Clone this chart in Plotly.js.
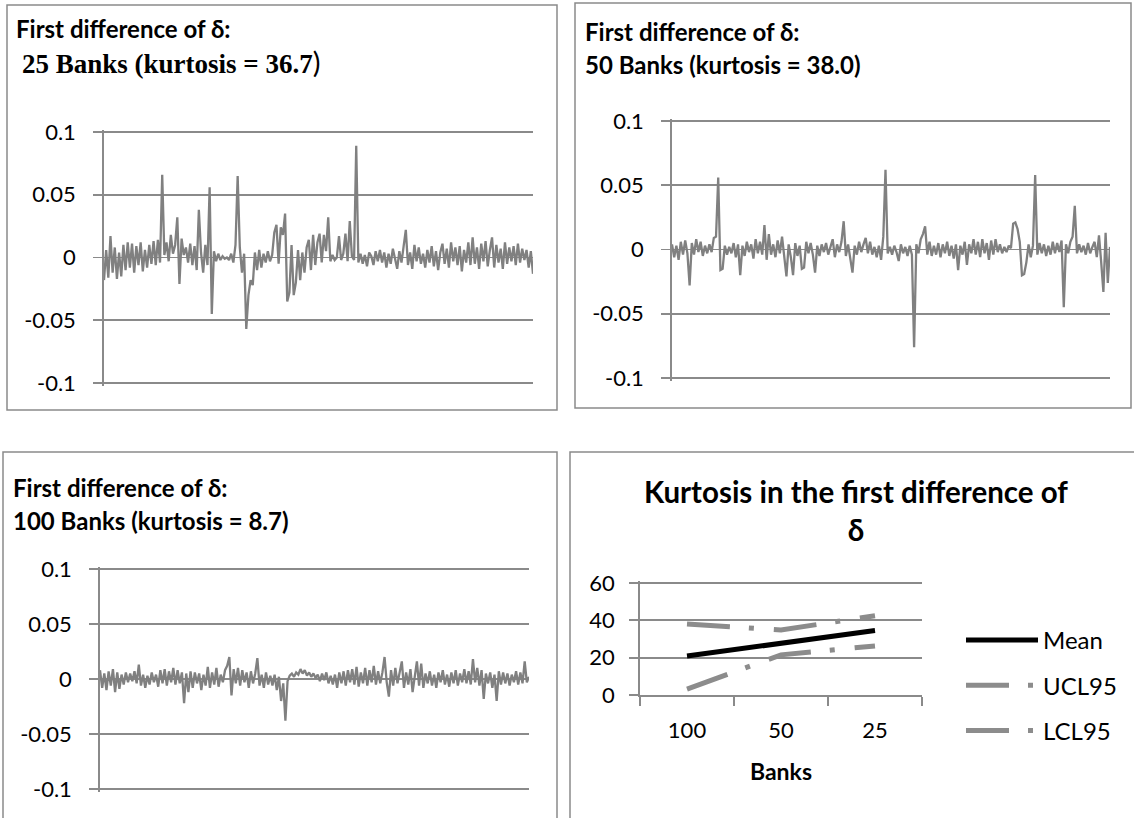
<!DOCTYPE html>
<html><head><meta charset="utf-8">
<script src="https://cdn.plot.ly/plotly-3.0.1.min.js"></script>
<style>html,body{margin:0;padding:0;background:#fff;} #chart{width:1134px;height:818px;}</style>
</head><body><div id="chart"></div>
<script>
// First difference of delta, 25 banks
const diff25 = [
-0.018,0.006,-0.016,0.017,-0.012,0.008,-0.017,0.004,-0.015,0.010,
-0.010,0.012,-0.008,0.011,-0.012,0.009,-0.006,0.012,-0.011,0.006,
-0.008,0.010,-0.005,0.013,-0.006,0.014,-0.004,0.066,0.002,0.012,
-0.003,0.018,0.003,0.010,0.032,-0.021,0.015,0.002,0.008,-0.004,
0.011,-0.006,0.009,-0.010,0.038,0.004,-0.012,0.010,-0.006,0.056,
-0.045,0.005,-0.003,0.003,-0.002,0.001,-0.001,0.000,-0.002,0.003,
-0.004,0.010,0.065,0.008,-0.012,0.003,-0.057,-0.030,-0.018,-0.022,
0.004,-0.010,0.006,-0.008,0.003,-0.004,0.005,-0.003,0.002,0.020,
0.026,-0.005,0.024,0.018,0.035,-0.035,-0.028,0.010,-0.030,-0.020,
0.006,-0.018,0.004,-0.012,0.008,0.014,-0.010,0.018,-0.006,0.012,
0.019,-0.004,0.018,0.005,0.032,-0.003,0.002,-0.002,0.000,0.017,
-0.002,0.003,0.019,-0.003,0.029,0.001,-0.002,0.089,-0.004,0.003,
-0.005,0.002,-0.007,0.004,0.001,-0.006,0.005,-0.003,0.006,-0.004,
0.004,-0.008,0.003,-0.005,0.007,-0.002,-0.009,0.005,-0.004,0.009,
0.022,-0.006,0.004,-0.009,0.010,-0.003,0.008,-0.005,0.003,-0.008,
0.006,-0.004,0.009,-0.007,0.005,-0.010,0.004,0.011,-0.005,0.007,
-0.008,0.012,-0.003,0.008,-0.006,0.009,-0.011,0.006,-0.004,0.012,
-0.006,0.016,-0.005,0.008,-0.009,0.011,-0.003,0.013,-0.007,0.006,
0.016,-0.008,0.010,-0.004,0.007,-0.009,0.012,-0.005,0.008,-0.003,
0.009,-0.006,0.011,-0.004,0.007,-0.002,0.006,-0.008,0.005,-0.013
];
// 50 banks
const diff50 = [
0.004,-0.006,0.003,-0.008,0.006,-0.004,0.007,-0.003,-0.028,0.005,
-0.004,0.008,-0.002,0.006,-0.005,0.003,-0.003,0.004,-0.002,0.009,
0.010,0.056,-0.016,-0.015,0.003,-0.004,0.002,-0.003,0.005,-0.006,
0.004,-0.020,0.003,-0.005,0.006,-0.002,0.004,-0.007,0.008,-0.003,
0.006,-0.004,0.019,-0.008,0.012,-0.004,0.004,-0.006,0.007,-0.003,
0.010,-0.004,-0.021,0.004,-0.006,-0.020,0.005,-0.005,0.003,-0.015,
-0.014,0.006,-0.003,0.005,-0.004,-0.018,0.003,-0.005,0.004,-0.002,
0.005,-0.004,0.003,0.008,-0.006,0.004,-0.002,0.006,0.022,-0.005,
0.004,-0.008,-0.018,0.003,-0.004,0.006,-0.002,0.004,0.009,-0.003,
0.006,-0.004,0.002,-0.006,0.003,-0.008,0.010,0.062,-0.003,0.002,
-0.004,0.003,-0.002,-0.009,0.004,-0.003,0.002,-0.005,0.003,-0.004,
-0.076,0.004,-0.003,0.008,0.012,0.018,-0.004,0.006,-0.005,0.003,
-0.004,0.005,-0.006,0.004,-0.003,0.006,-0.005,0.003,-0.007,0.004,
-0.016,0.003,-0.004,0.006,-0.012,0.004,-0.003,0.008,-0.004,0.006,
-0.006,0.008,-0.003,0.005,-0.008,0.007,-0.004,0.008,-0.002,0.004,
-0.003,0.002,-0.002,0.003,0.001,0.020,0.021,0.016,0.006,-0.020,
-0.019,-0.010,0.004,-0.006,0.003,0.058,-0.004,0.005,-0.003,0.004,
-0.005,0.003,-0.004,0.006,-0.003,0.005,-0.002,0.007,-0.045,0.004,
-0.003,0.006,0.010,0.034,-0.003,0.004,-0.002,0.003,-0.004,0.005,
-0.003,0.002,0.006,-0.006,0.011,-0.010,-0.033,0.013,-0.026,0.002
];
// 100 banks
const diff100 = [
0.008,-0.008,0.005,-0.010,0.007,-0.006,0.009,-0.012,0.006,-0.009,
0.004,-0.005,0.006,-0.003,0.005,-0.002,0.007,-0.004,0.013,-0.006,
0.004,-0.008,0.003,-0.005,0.006,-0.003,0.004,-0.007,0.008,-0.004,
0.009,-0.006,0.007,-0.003,0.010,-0.005,0.008,-0.004,0.006,-0.022,
0.005,-0.012,0.007,-0.008,0.006,-0.004,0.005,-0.010,0.004,-0.006,
0.011,-0.008,0.006,-0.005,0.010,-0.007,0.004,-0.003,0.008,0.012,
0.020,-0.015,0.009,-0.004,0.010,-0.006,0.008,-0.003,0.006,-0.008,
0.007,-0.004,0.005,0.019,-0.006,0.004,-0.008,0.006,-0.005,0.003,
-0.006,0.004,-0.010,0.002,-0.020,-0.004,-0.038,-0.002,0.003,0.005,
0.002,0.006,0.004,0.009,0.005,0.008,0.003,0.006,0.002,0.005,
0.001,0.004,-0.002,0.005,-0.001,0.006,-0.004,0.003,-0.005,0.004,
-0.008,0.006,-0.004,0.007,-0.006,0.008,-0.003,0.009,-0.005,0.011,
-0.007,0.006,-0.004,0.010,-0.006,0.008,-0.003,0.012,-0.005,0.007,
-0.004,0.006,0.020,-0.003,-0.016,0.008,-0.006,0.010,-0.004,0.005,
0.016,-0.008,0.006,-0.005,0.009,-0.012,0.004,0.016,-0.006,0.014,
-0.008,0.005,-0.004,0.007,-0.006,0.004,-0.008,0.006,-0.003,0.008,
-0.005,0.004,-0.007,0.006,-0.004,0.008,-0.006,0.005,-0.003,0.009,
-0.004,0.007,-0.005,0.018,-0.003,0.010,-0.006,0.008,-0.018,0.005,
-0.004,0.006,-0.008,0.004,-0.020,0.007,-0.005,0.006,-0.004,0.005,
-0.006,0.004,-0.003,0.007,-0.005,0.006,-0.004,0.016,-0.003,0.002
];
const diffTicks = [-0.1, -0.05, 0, 0.05, 0.1];
const diffTickText = ["-0.1", "-0.05", "0", "0.05", "0.1"];

// Kurtosis panel
const bankCats = ["100", "50", "25"];
const kurtMean = [20.9, 27.8, 34.5];
const kurtUCL = [38.0, 34.8, 42.5];
const kurtLCL = [3.2, 21.5, 26.3];
const kurtTicks = [0, 20, 40, 60];

const W = 1134, H = 818;
const px = x => x / W;
const py = y => 1 - y / H;
const FONT = 'Lato, "Open Sans", "DejaVu Sans", sans-serif';
const SERIF = '"Liberation Serif", "Times New Roman", serif';
const GRID = '#8a8a8a';
const LINE = '#808080';
const DASHDOT = '43px,19px,5px,20px';
const PAD = 2.5; // px of slack so the edge gridlines are drawn

function idx(a) { return a.map((_, i) => i); }

const traces = [
  {x: idx(diff25), y: diff25, xaxis: 'x', yaxis: 'y', type: 'scatter', mode: 'lines',
   line: {color: LINE, width: 2.3}, showlegend: false, hoverinfo: 'skip'},
  {x: idx(diff50), y: diff50, xaxis: 'x2', yaxis: 'y2', type: 'scatter', mode: 'lines',
   line: {color: LINE, width: 2.3}, showlegend: false, hoverinfo: 'skip'},
  {x: idx(diff100), y: diff100, xaxis: 'x3', yaxis: 'y3', type: 'scatter', mode: 'lines',
   line: {color: LINE, width: 2.3}, showlegend: false, hoverinfo: 'skip'},
  {x: bankCats, y: kurtMean, xaxis: 'x4', yaxis: 'y4', type: 'scatter', mode: 'lines', name: 'Mean',
   line: {color: '#000', width: 5}, legendgroup: 'a'},
  {x: bankCats, y: kurtUCL, xaxis: 'x4', yaxis: 'y4', type: 'scatter', mode: 'lines', name: 'UCL95',
   line: {color: '#8c8c8c', width: 5, dash: DASHDOT}, legendgroup: 'b'},
  {x: bankCats, y: kurtLCL, xaxis: 'x4', yaxis: 'y4', type: 'scatter', mode: 'lines', name: 'LCL95',
   line: {color: '#8c8c8c', width: 5, dash: DASHDOT}, legendgroup: 'c'}
];

function tsY(top, bottom, anchor) {
  const h = bottom - top;
  const half = 0.1 * (h + 2 * PAD) / h;
  return {
    domain: [py(bottom + PAD), py(top - PAD)], anchor: anchor, range: [-half, half],
    tickvals: diffTicks, ticktext: diffTickText,
    showgrid: true, gridcolor: GRID, gridwidth: 1.75, zeroline: false,
    showline: true, linecolor: GRID, linewidth: 1.75, ticks: 'outside', ticklen: 9, tickcolor: GRID, tickwidth: 1.75,
    ticklabelstandoff: 13,
    tickfont: {family: FONT, size: 22, color: '#000'}, fixedrange: true
  };
}
function tsX(left, right, n, anchor) {
  return {
    domain: [px(left), px(right)], anchor: anchor, range: [0, n - 1], showgrid: false, zeroline: false,
    showline: false, showticklabels: false, ticks: '', fixedrange: true
  };
}
const k4top = 583, k4bottom = 695;
const k4max = 60 * (k4bottom - k4top + PAD) / (k4bottom - k4top);

const layout = {
  width: W, height: H, margin: {l: 0, r: 0, t: 0, b: 0},
  paper_bgcolor: '#fff', plot_bgcolor: 'rgba(0,0,0,0)',
  font: {family: FONT, color: '#000'},
  xaxis: tsX(104, 533, diff25.length, 'y'),   yaxis: tsY(132, 383, 'x'),
  xaxis2: tsX(672, 1110, diff50.length, 'y2'), yaxis2: tsY(121, 378, 'x2'),
  xaxis3: tsX(100, 529, diff100.length, 'y3'), yaxis3: tsY(569, 789, 'x3'),
  xaxis4: {
    domain: [px(640), px(922)], anchor: 'y4', type: 'category', range: [-0.5, 2.5],
    showline: true, linecolor: GRID, linewidth: 1.75, ticks: 'outside', tickson: 'boundaries',
    ticklen: 9, tickcolor: GRID, tickwidth: 1.75, showgrid: false, zeroline: false,
    ticklabelstandoff: 15,
    tickfont: {family: FONT, size: 22, color: '#000'},
    title: {text: '<b>Banks</b>', font: {family: FONT, size: 23, color: '#000'}, standoff: 22}, fixedrange: true
  },
  yaxis4: {
    domain: [py(k4bottom), py(k4top - PAD)], anchor: 'x4', range: [0, k4max], tickvals: kurtTicks,
    showgrid: true, gridcolor: GRID, gridwidth: 1.75, zeroline: false,
    showline: true, linecolor: GRID, linewidth: 1.75, ticks: 'outside', ticklen: 9, tickcolor: GRID, tickwidth: 1.75,
    ticklabelstandoff: 10,
    tickfont: {family: FONT, size: 22, color: '#000'}, fixedrange: true
  },
  showlegend: true,
  legend: {
    x: px(961), y: py(618), xanchor: 'left', yanchor: 'top', bgcolor: 'rgba(0,0,0,0)',
    font: {family: FONT, size: 24, color: '#000'}, tracegroupgap: 11, itemwidth: 72
  },
  shapes: [
    {type: 'rect', xref: 'paper', yref: 'paper', x0: px(7), x1: px(557), y0: py(410), y1: py(5),
     line: {color: GRID, width: 1.5}},
    {type: 'rect', xref: 'paper', yref: 'paper', x0: px(575), x1: px(1131), y0: py(408), y1: py(3),
     line: {color: GRID, width: 1.5}},
    {type: 'rect', xref: 'paper', yref: 'paper', x0: px(3), x1: px(557), y0: py(830), y1: py(452),
     line: {color: GRID, width: 1.5}},
    {type: 'rect', xref: 'paper', yref: 'paper', x0: px(570), x1: px(1145), y0: py(830), y1: py(452),
     line: {color: GRID, width: 1.5}}
  ],
  annotations: [
    {xref: 'paper', yref: 'paper', x: px(14), y: py(28), xanchor: 'left', yanchor: 'middle', showarrow: false,
     text: '<b>First difference of δ:</b>', font: {family: FONT, size: 24, color: '#000'}},
    {xref: 'paper', yref: 'paper', x: px(20), y: py(62), xanchor: 'left', yanchor: 'middle', showarrow: false,
     text: '<b>25 Banks (kurtosis = 36.7</b><span style="font-family:Lato,sans-serif;font-size:29px">)</span>',
     font: {family: SERIF, size: 27, color: '#000'}},
    {xref: 'paper', yref: 'paper', x: px(583), y: py(31), xanchor: 'left', yanchor: 'middle', showarrow: false,
     text: '<b>First difference of δ:</b>', font: {family: FONT, size: 24, color: '#000'}},
    {xref: 'paper', yref: 'paper', x: px(583), y: py(64), xanchor: 'left', yanchor: 'middle', showarrow: false,
     text: '<b>50 Banks (kurtosis = 38.0)</b>', font: {family: FONT, size: 24, color: '#000'}},
    {xref: 'paper', yref: 'paper', x: px(11), y: py(487), xanchor: 'left', yanchor: 'middle', showarrow: false,
     text: '<b>First difference of δ:</b>', font: {family: FONT, size: 24, color: '#000'}},
    {xref: 'paper', yref: 'paper', x: px(11), y: py(520), xanchor: 'left', yanchor: 'middle', showarrow: false,
     text: '<b>100 Banks (kurtosis = 8.7)</b>', font: {family: FONT, size: 24, color: '#000'}},
    {xref: 'paper', yref: 'paper', x: px(856), y: py(511), xanchor: 'center', yanchor: 'middle', showarrow: false,
     align: 'center', text: '<b>Kurtosis in the first difference of<br>δ</b>',
     font: {family: FONT, size: 29.5, color: '#000'}}
  ]
};

Plotly.newPlot('chart', traces, layout, {displayModeBar: false, staticPlot: true});
</script>
</body></html>
